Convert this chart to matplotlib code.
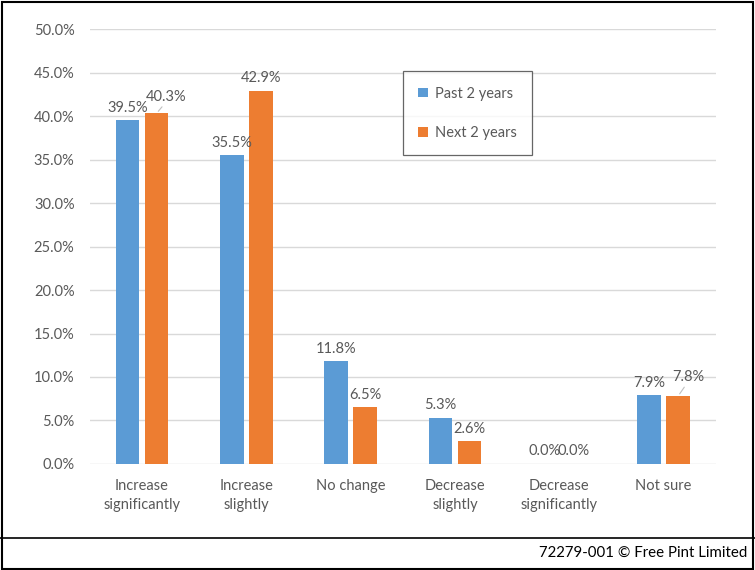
import matplotlib
matplotlib.use('Agg')
import matplotlib.pyplot as plt
from matplotlib.patches import Rectangle
from matplotlib.lines import Line2D
import numpy as np

plt.rcParams['font.family'] = ['Lato', 'DejaVu Sans']

# Datos
categorias = ['Increase\nsignificantly', 'Increase\nslightly', 'No change',
              'Decrease\nslightly', 'Decrease\nsignificantly', 'Not sure']
past_2 = [39.5, 35.5, 11.8, 5.3, 0.0, 7.9]
next_2 = [40.3, 42.9, 6.5, 2.6, 0.0, 7.8]
series = ['Past 2 years', 'Next 2 years']
yticks = [0, 5, 10, 15, 20, 25, 30, 35, 40, 45, 50]

azul = '#5b9bd5'
naranja = '#ed7d31'
gris = '#595959'

fig = plt.figure(figsize=(7.55, 5.70), dpi=100)
ax = fig.add_axes([0.119, 0.186, 0.829, 0.763])

x = np.arange(len(categorias))
ancho = 0.225
desp = 0.139
b1 = ax.bar(x - desp, past_2, ancho, color=azul, label=series[0], zorder=3)
b2 = ax.bar(x + desp, next_2, ancho, color=naranja, label=series[1], zorder=3)

ax.set_xlim(-0.5, len(categorias) - 0.5)
ax.set_ylim(0, 50)
ax.set_yticks(yticks)
ax.set_yticklabels([f'{v:.1f}%' for v in yticks])
ax.set_xticks(x)
ax.set_xticklabels(categorias, linespacing=1.45)
ax.tick_params(axis='both', length=0, labelsize=10.5, colors=gris)
ax.tick_params(axis='y', pad=11)
ax.tick_params(axis='x', pad=11)
ax.grid(axis='y', color='#d9d9d9', linewidth=1, zorder=0)
for s in ax.spines.values():
    s.set_visible(False)

# Etiquetas de datos (algunas desplazadas como en el original)
offsets_past = {}
offsets_next = {0: (7, 7), 5: (7.5, 9)}
for bars, vals, offs in [(b1, past_2, offsets_past), (b2, next_2, offsets_next)]:
    for i, (r, v) in enumerate(zip(bars, vals)):
        cx = r.get_x() + r.get_width() / 2
        dx, dy = offs.get(i, (0, 4))
        ax.annotate(f'{v:.1f}%', (cx, v), xytext=(dx, dy), textcoords='offset points',
                    ha='center', va='bottom', fontsize=10.5, color=gris, zorder=4)
        if i in offs:
            ax.annotate('', (cx, v), xytext=(dx * 0.75, dy * 0.9), textcoords='offset points',
                        arrowprops=dict(arrowstyle='-', color='#bfbfbf', lw=0.8))

leg = ax.legend(loc='upper left', bbox_to_anchor=(0.5, 0.903), fontsize=10.5,
                frameon=True, fancybox=False, edgecolor='#404040',
                handlelength=0.65, handleheight=0.65, handletextpad=0.5,
                labelspacing=1.75, borderpad=1.05, borderaxespad=0)
leg.get_frame().set_linewidth(0.9)
for t in leg.get_texts():
    t.set_color(gris)

# Marco exterior y pie
fig.patches.append(Rectangle((0.002, 0.002), 0.995, 0.995, transform=fig.transFigure,
                             fill=False, edgecolor='black', linewidth=1.5))
fig.lines.append(Line2D([0, 1], [1 - 538 / 570, 1 - 538 / 570], transform=fig.transFigure,
                        color='black', linewidth=1.2))
fig.text(1 - 8 / 755, 1 - 553 / 570, '72279-001 \u00a9 Free Pint Limited', ha='right', va='center',
         fontsize=10.8, color='black')

fig.savefig('out.png', dpi=100)
